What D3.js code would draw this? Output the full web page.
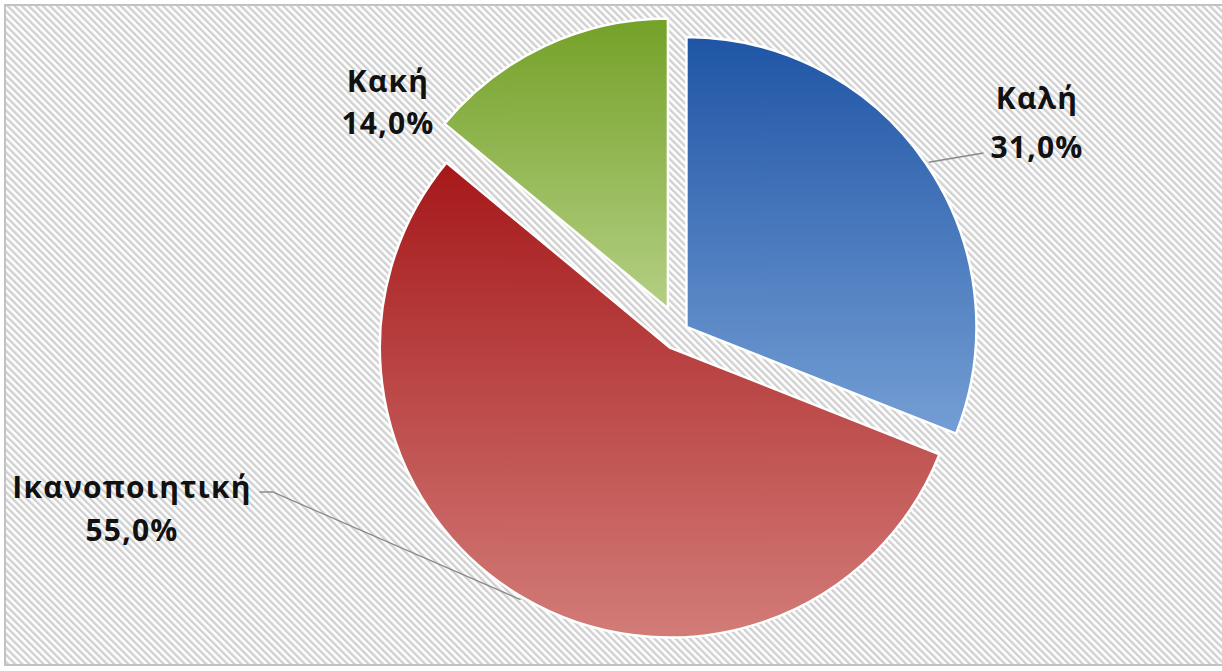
<!DOCTYPE html>
<html>
<head>
<meta charset="utf-8">
<script src="https://cdn.jsdelivr.net/npm/d3@7/dist/d3.min.js"></script>
<style>
    body { margin: 0; background: #fff; }
    svg text { font-family: "Open Sans", "DejaVu Sans", sans-serif; font-weight: bold; fill: #111; }
</style>
</head>
<body>
<svg id="chart"></svg>
<script>
// data
var categories = ["Καλή", "Ικανοποιητική", "Κακή"];
var values = [31.0, 55.0, 14.0];
var colorsTop = ["#1f55a6", "#a6181a", "#74a128"];
var colorsBottom = ["#749ed4", "#d27c78", "#b4cf84"];

var width = 1222, height = 671;
var svg = d3.select("#chart")
    .attr("width", width)
    .attr("height", height);

var defs = svg.append("defs");

// diagonal hatch for chart area
var hatch = defs.append("pattern")
    .attr("id", "hatch")
    .attr("patternUnits", "userSpaceOnUse")
    .attr("width", 5)
    .attr("height", 10)
    .attr("patternTransform", "rotate(-45)");
hatch.append("rect").attr("width", 5).attr("height", 10).attr("fill", "#fff");
hatch.append("rect").attr("width", 2.4).attr("height", 10).attr("fill", "#d0d0d0");

svg.append("rect")
    .attr("x", 5).attr("y", 5)
    .attr("width", 1240).attr("height", 660)
    .attr("fill", "url(#hatch)")
    .attr("stroke", "#c2c2c2")
    .attr("stroke-width", 2);

// one vertical gradient per slice
categories.forEach(function (c, i) {
    var g = defs.append("linearGradient")
        .attr("id", "grad" + i)
        .attr("x1", 0).attr("y1", 0)
        .attr("x2", 0).attr("y2", 1);
    g.append("stop").attr("offset", "0%").attr("stop-color", colorsTop[i]);
    g.append("stop").attr("offset", "100%").attr("stop-color", colorsBottom[i]);
});

var cx = 679, cy = 332, radius = 290;
var explode = [9, 18, 26];

var pie = d3.pie().sort(null).value(function (d) { return d; });
var arcs = pie(values);
var arc = d3.arc().innerRadius(0).outerRadius(radius);

function shift(d, i) {
    var mid = (d.startAngle + d.endAngle) / 2;
    return [Math.sin(mid) * explode[i], -Math.cos(mid) * explode[i]];
}

var gPie = svg.append("g").attr("transform", "translate(" + cx + "," + cy + ")");

gPie.selectAll("path.slice")
    .data(arcs)
    .enter().append("path")
    .attr("class", "slice")
    .attr("transform", function (d, i) {
        var s = shift(d, i);
        return "translate(" + s[0] + "," + s[1] + ")";
    })
    .attr("d", arc)
    .attr("fill", function (d, i) { return "url(#grad" + i + ")"; })
    .attr("stroke", "#fff")
    .attr("stroke-width", 2.5)
    .attr("stroke-linejoin", "round");

// label layout: offset of first baseline from pie centre, line gap
var labelLayout = [
    {dx: 358, dy: -223, gap: 49, leader: "left2"},
    {dx: -547, dy: 166, gap: 43, leader: "right1"},
    {dx: -291, dy: -240, gap: 42, leader: null}
];

var fmt = function (v) { return d3.format(".1f")(v).replace(".", ",") + "%"; };

arcs.forEach(function (d, i) {
    var L = labelLayout[i];
    var t = gPie.append("text")
        .attr("text-anchor", "middle")
        .style("font-size", "30px")
        .style("letter-spacing", "1.2px");
    var t1 = t.append("tspan").attr("x", L.dx).attr("y", L.dy).text(categories[i]);
    var t2 = t.append("tspan").attr("x", L.dx).attr("y", L.dy + L.gap).text(fmt(values[i]));

    if (!L.leader) return;
    var s = shift(d, i);
    var mid = (d.startAngle + d.endAngle) / 2;
    var p0 = [s[0] + Math.sin(mid) * (radius + 3), s[1] - Math.cos(mid) * (radius + 3)];
    var pts;
    if (L.leader === "left2") {
        var w2 = t2.node().getComputedTextLength();
        var ex = L.dx - w2 / 2 - 7, ey = L.dy + L.gap - 5;
        pts = [p0, [ex, ey]];
    } else {
        var w1 = t1.node().getComputedTextLength();
        var rx = L.dx + w1 / 2 + 8, ry = L.dy - 6;
        pts = [p0, [rx + 13, ry], [rx, ry]];
    }
    gPie.append("path")
        .attr("d", d3.line()(pts))
        .attr("fill", "none")
        .attr("stroke", "#8a8a8a")
        .attr("stroke-width", 1.3);
});
</script>
</body>
</html>
